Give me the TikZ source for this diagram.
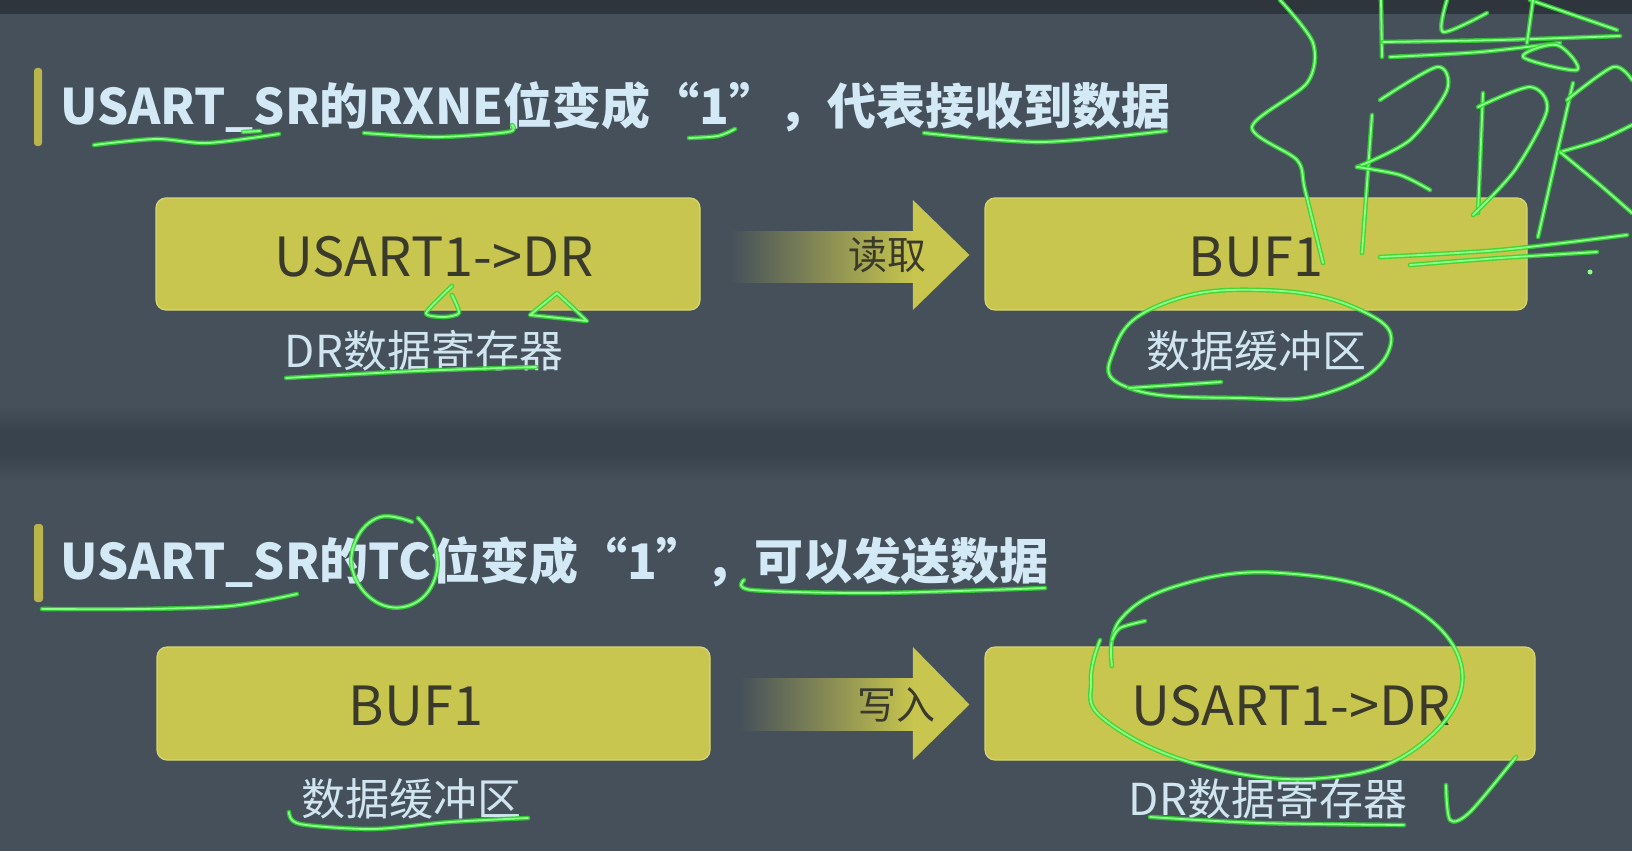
\documentclass[tikz,border=0pt]{standalone}
\usepackage{fontspec}
\setmainfont{Noto Sans CJK SC}
\usetikzlibrary{calc,fadings}
\definecolor{bg}{HTML}{45505B}
\definecolor{bgdark}{HTML}{2E353C}
\definecolor{band}{HTML}{39434D}
\definecolor{boxfill}{HTML}{C8C64E}
\definecolor{boxline}{HTML}{D6D672}
\definecolor{boxtxt}{HTML}{3A3A2C}
\definecolor{titletxt}{HTML}{D3EAF6}
\definecolor{labeltxt}{HTML}{D0E5EF}
\definecolor{barc}{HTML}{B9B54C}
\definecolor{glow}{HTML}{2ED82E}
\definecolor{pen}{HTML}{8CFF8C}
\tikzfading[name=arrowfade, left color=transparent!100, right color=transparent!0]
\tikzset{
  box/.style={rectangle, rounded corners=10pt, fill=boxfill, draw=boxline, line width=1.2pt, inner sep=0pt},
  boxtext/.style={text=boxtxt, font=\fontsize{54}{60}\selectfont, inner sep=0pt},
  arrtext/.style={text=boxtxt, font=\fontsize{39}{44}\selectfont, inner sep=0pt},
  lbl/.style={text=labeltxt, font=\fontsize{44}{50}\selectfont, inner sep=0pt},
  ttl/.style={text=titletxt, font=\bfseries\fontsize{49}{56}\selectfont, inner sep=0pt, anchor=west},
  tbar/.style={fill=barc, rounded corners=3pt},
  ann/.style={draw=pen, line width=1.8pt, line cap=round, line join=round,
    preaction={draw=glow, line width=4.6pt, opacity=0.85, line cap=round, line join=round}},
}
\begin{document}
\begin{tikzpicture}[x=1pt,y=-1pt]
\useasboundingbox (0,0) rectangle (1632,851);
% background
\fill[bg] (0,0) rectangle (1632,851);
\fill[bgdark] (0,0) rectangle (1632,14);
\fill[top color=bg, bottom color=band] (0,405) rectangle (1632,432);
\fill[band] (0,432) rectangle (1632,455);
\fill[top color=band, bottom color=bg] (0,455) rectangle (1632,480);

% ---------- top half ----------
\fill[tbar] (34,68) rectangle (42,146);
\node[ttl] (t1) at (60,107) {USART\_SR的RXNE位变成“1”，代表接收到数据};

\node[box, minimum width=544pt, minimum height=112pt] (b1) at (428,254) {};
\node[boxtext] (b1t) at (434,257) {USART1->DR};
\node[box, minimum width=542pt, minimum height=112pt] (b2) at (1256,254) {};
\node[boxtext] (b2t) at (1256,257) {BUF1};
\node[lbl] (l1) at (424,351) {DR数据寄存器};
\node[lbl] (l2) at (1256,351) {数据缓冲区};

\fill[boxfill, path fading=arrowfade] ($(b1.east)+(29,-23)$) rectangle ($(b2.west)+(-71,29)$);
\fill[boxfill] ($(b2.west)+(-71.5,-23)$) -- ($(b2.west)+(-71.5,-54)$) -- ($(b2.west)+(-15,1)$) -- ($(b2.west)+(-71.5,56)$) -- ($(b2.west)+(-71.5,29)$) -- cycle;
\node[arrtext] (a1) at (887,255) {读取};

% ---------- bottom half ----------
\fill[tbar] (34,524) rectangle (43,602);
\node[ttl] (t2) at (60,562) {USART\_SR的TC位变成“1”，可以发送数据};

\node[box, minimum width=553pt, minimum height=113pt] (b3) at (433.5,703.5) {};
\node[boxtext] (b3t) at (416,706) {BUF1};
\node[box, minimum width=550pt, minimum height=113pt] (b4) at (1260,703.5) {};
\node[boxtext] (b4t) at (1291,706) {USART1->DR};
\node[lbl] (l3) at (411,799) {数据缓冲区};
\node[lbl] (l4) at (1268,799) {DR数据寄存器};

\fill[boxfill, path fading=arrowfade] ($(b3.east)+(29,-25)$) rectangle ($(b4.west)+(-71,27)$);
\fill[boxfill] ($(b4.west)+(-71.5,-25)$) -- ($(b4.west)+(-71.5,-56.5)$) -- ($(b4.west)+(-15,1)$) -- ($(b4.west)+(-71.5,56.5)$) -- ($(b4.west)+(-71.5,27)$) -- cycle;
\node[arrtext] (a2) at (896,705) {写入};

% ---------- hand-drawn annotations ----------
% title 1 underlines
\draw[ann] plot[smooth] coordinates {(94,145) (156,139) (208,143) (279,134)};
\draw[ann] (243,132) -- (260,131);
\draw[ann] plot[smooth] coordinates {(364,133) (437,137) (508,132) (512,125)};
\draw[ann] plot[smooth] coordinates {(689,138) (718,136) (735,129)};
\draw[ann] plot[smooth] coordinates {(924,133) (1041,142) (1166,131)};
% triangles under USART1->DR
\draw[ann] plot[smooth, tension=0.4] coordinates {(452,286) (426,313) (444,317) (459,313) (452,295)};
\draw[ann] (557,293) -- (530,315) -- (587,321) -- cycle;
% underline DR label
\draw[ann] plot[smooth] coordinates {(286,378) (416,371) (536,367)};
% ellipse around 数据缓冲区
\draw[ann] plot[smooth cycle, tension=0.8] coordinates {(1129,388) (1114,350) (1160,305) (1260,290) (1360,310) (1389,350) (1330,392) (1240,398)};
\draw[ann] (1129,388) -- (1221,382);
% brace and RDR scribbles
\draw[ann] plot[smooth] coordinates {(1280,0) (1313,43) (1307,83) (1252,127) (1297,160) (1305,190) (1323,263)};
\draw[ann] (1381,0) -- (1382,57);
\draw[ann] plot[smooth] coordinates {(1383,42) (1500,40) (1620,36)};
\draw[ann] plot[smooth] coordinates {(1390,57) (1480,52) (1560,43)};
\draw[ann] plot[smooth] coordinates {(1447,0) (1443,32) (1487,13)};
\draw[ann] (1530,0) -- (1617,30);
\draw[ann] (1533,0) -- (1527,43);
\draw[ann] plot[smooth cycle, tension=0.6] coordinates {(1523,57) (1577,70) (1557,45)};
% R
\draw[ann] (1372,115) -- (1362,253);
\draw[ann] plot[smooth] coordinates {(1380,100) (1437,67) (1447,90) (1410,140) (1357,167)};
\draw[ann] plot[smooth] coordinates {(1357,167) (1400,175) (1430,190)};
% D
\draw[ann] (1483,93) -- (1478,213);
\draw[ann] plot[smooth] coordinates {(1478,107) (1530,87) (1547,110) (1515,170) (1473,215)};
% R
\draw[ann] (1573,83) -- (1538,237);
\draw[ann] plot[smooth] coordinates {(1567,100) (1613,67) (1632,80)};
\draw[ann] plot[smooth] coordinates {(1632,125) (1600,140) (1560,152)};
\draw[ann] plot[smooth] coordinates {(1560,152) (1600,185) (1632,213)};
\draw[ann] plot[smooth] coordinates {(1380,257) (1500,250) (1627,235)};
\draw[ann] plot[smooth] coordinates {(1410,265) (1500,258) (1597,252)};
\fill[pen] (1590,272) circle (2.5pt);
% title 2 annotations
\draw[ann] plot[smooth] coordinates {(42,609) (140,609) (231,606) (297,594)};
\draw[ann] plot[smooth, tension=0.7] coordinates {(412,522) (380,517) (356,540) (354,575) (380,604) (415,603) (436,575) (433,540) (418,518)};
\draw[ann] plot[smooth] coordinates {(744,580) (752,590) (877,593) (1045,588)};
% bottom underlines
\draw[ann] plot[smooth] coordinates {(289,812) (300,824) (373,829) (450,822) (528,818)};
\draw[ann] plot[smooth, tension=0.7] coordinates {(1112,666) (1120,620) (1180,585) (1281,573) (1400,600) (1462,670) (1420,745) (1324,778) (1200,765) (1105,720) (1091,680) (1100,640)};
\draw[ann] plot[smooth] coordinates {(1145,621) (1120,628) (1112,640)};
\draw[ann] plot[smooth] coordinates {(1150,817) (1260,823) (1404,825)};
\draw[ann] plot[smooth] coordinates {(1446,785) (1450,820) (1470,812) (1516,757)};
\end{tikzpicture}
\end{document}
